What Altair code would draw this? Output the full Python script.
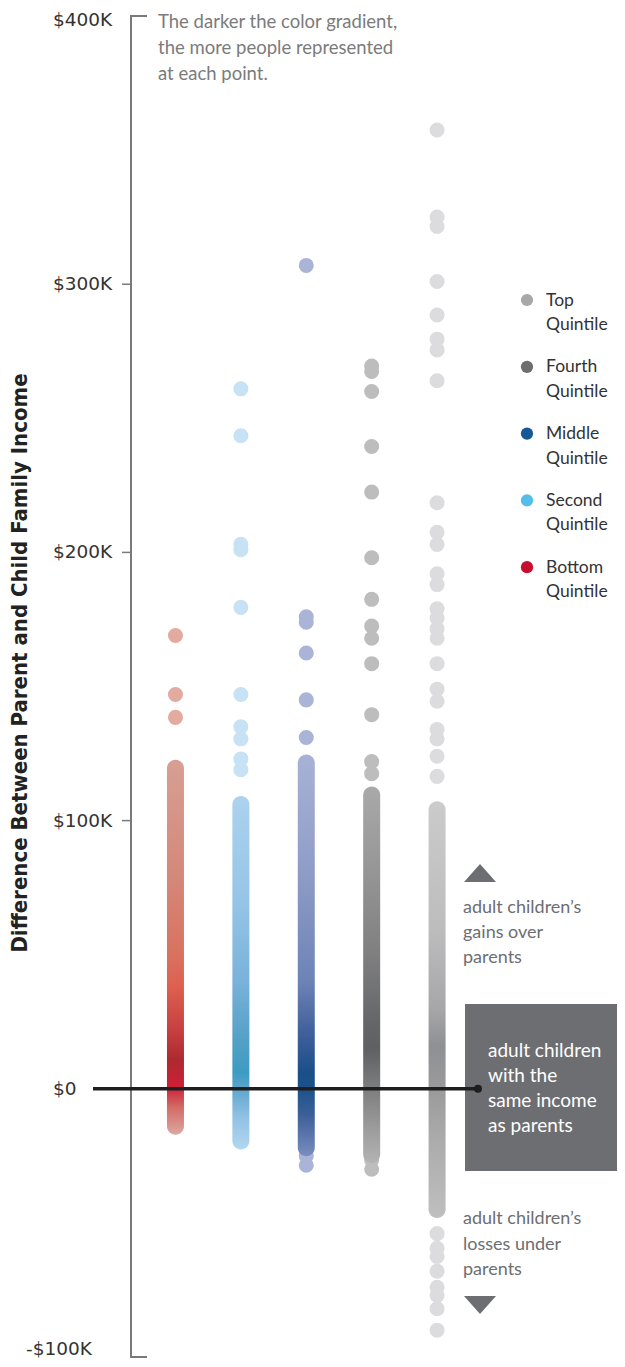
import altair as alt
import pandas as pd

# ---------------- data (values in $K) ----------------
quintiles = ["Bottom", "Second", "Middle", "Fourth", "Top"]

bottom_outliers = [169, 147, 138.5]
second_outliers = [261, 243.5, 203, 201, 179.5, 147, 135, 130.5, 123, 119]
middle_outliers = [307, 176, 174, 162.5, 145, 131, -25, -28.5]
fourth_outliers = [269.5, 267.5, 260, 239.5, 222.5, 198, 182.5, 172.5, 168, 158.5,
                   139.5, 122, 117.5, -26.5, -30]
top_outliers = [357.5, 325, 321.5, 301, 288.5, 279.5, 275.5, 264, 218.5, 207.5, 203,
                192, 188, 179, 175.5, 171.5, 168, 158.5, 149, 144.5, 134, 130.5, 124,
                116.5, -54, -59.5, -62.5, -68, -74, -77, -82, -90]
outliers = [bottom_outliers, second_outliers, middle_outliers, fourth_outliers, top_outliers]

# dense (continuous) run of points: top and bottom dot values
dense_top = [119.5, 106, 121.5, 109.5, 104]
dense_bottom = [-14, -19.5, -22, -24.5, -45]

# colour ramps along each dense run: (value, colour)
ramps = [
    [(119.5, "#d79f93"), (80, "#d4897a"), (50, "#d9725f"), (38, "#de604f"),
     (21, "#c53e40"), (11, "#ad2a30"), (1, "#cd1f36"), (-7, "#d36c66"), (-14, "#dca8a2")],
    [(106, "#acd2ee"), (70, "#95c5e7"), (40, "#79b2da"), (21, "#59a2c8"),
     (6, "#3d9bc3"), (0, "#5da6cc"), (-10, "#8fc0e3"), (-19.5, "#b3d7f0")],
    [(121.5, "#a8b2d6"), (80, "#8e9cc6"), (40, "#6d83b6"), (21, "#40609b"),
     (6, "#1b4f8a"), (0, "#1b5289"), (-10, "#3e6099"), (-22, "#7a8dbf")],
    [(109.5, "#a9a9a9"), (80, "#959595"), (50, "#7f7f80"), (25, "#656668"),
     (15, "#5e6062"), (0, "#7e7e7f"), (-15, "#9c9c9c"), (-24.5, "#b3b3b3")],
    [(104, "#cbcbcc"), (60, "#bdbdbe"), (30, "#a7a7a9"), (16, "#8f9094"),
     (0, "#9a9a9b"), (-20, "#acacad"), (-45, "#bfbfc0")],
]
outlier_colors = ["#e3ab9f", "#c6e2f4", "#aab4d7", "#bdbdbd", "#dcdcde"]

legend_labels = ["Top\nQuintile", "Fourth\nQuintile", "Middle\nQuintile",
                 "Second\nQuintile", "Bottom\nQuintile"]
legend_colors = ["#a7a8aa", "#6d6e71", "#155a96", "#55bde9", "#c8102e"]

mid_tick_values = [0, 100, 200, 300]
mid_tick_labels = ["$0", "$100K", "$200K", "$300K"]
top_tick_values = [400]
top_tick_labels = ["$400K"]
neg_tick_values = [-100]
neg_tick_labels = ["-$100K"]
inner_ticks = [100, 200, 300]

# ---------------- layout ----------------
PLOT_W, PLOT_H = 486, 1341
PX_PER_K = PLOT_H / 500.0
FONT = "Lato"
LABEL_FONT = "DejaVu Sans"

yscale = alt.Scale(domain=[-100, 400], nice=False, zero=False, padding=0)
xscale = alt.Scale(domain=[-0.68, 6.751], nice=False, zero=False, padding=0)

layers = []

# individual outlying points
rows = []
for i, q in enumerate(quintiles):
    for v in outliers[i]:
        rows.append({"idx": i, "value": v, "quintile": q, "color": outlier_colors[i]})
dots_df = pd.DataFrame(rows)
dots = alt.Chart(dots_df).mark_circle(size=227, opacity=1).encode(
    x=alt.X("idx:Q", scale=xscale, axis=None),
    y=alt.Y("value:Q", scale=yscale, axis=None),
    color=alt.Color("color:N", scale=None),
)
layers.append(dots)

# dense runs as gradient bars with rounded ends
for i, q in enumerate(quintiles):
    top, bot = dense_top[i], dense_bottom[i]
    total = (top - bot) * PX_PER_K + 17
    stops = []
    for v, c in ramps[i]:
        off = ((top - v) * PX_PER_K + 8.5) / total
        off = min(max(off, 0), 1)
        stops.append(alt.GradientStop(offset=off, color=c))
    stops[0] = alt.GradientStop(offset=0, color=ramps[i][0][1])
    stops[-1] = alt.GradientStop(offset=1, color=ramps[i][-1][1])
    grad = alt.LinearGradient(gradient="linear", stops=stops, x1=0, x2=0, y1=0, y2=1)
    df = pd.DataFrame({"idx": [i], "top": [top], "bottom": [bot], "quintile": [q]})
    bar = alt.Chart(df).mark_bar(
        orient="vertical", size=17, cornerRadius=8.5, yOffset=-8.5, y2Offset=8.5,
        fill=grad, strokeWidth=0,
    ).encode(
        x=alt.X("idx:Q", scale=xscale, axis=None),
        y=alt.Y("top:Q", scale=yscale, axis=None),
        y2="bottom:Q",
    )
    layers.append(bar)

base = alt.Chart(pd.DataFrame({"a": [0]}))

# ---- hand-drawn y axis ----
layers.append(base.mark_rule(color="#7a7a7a", strokeWidth=2).encode(
    x=alt.value(0),
    y=alt.YDatum(400, scale=yscale, axis=None),
    y2=alt.Y2Datum(-100)))
tick_df = pd.DataFrame({"v": inner_ticks})
layers.append(alt.Chart(tick_df).mark_rule(color="#7a7a7a", strokeWidth=1.5).encode(
    x=alt.value(-9), x2=alt.value(0),
    y=alt.Y("v:Q", scale=yscale, axis=None)))
for v in [400, -100]:
    layers.append(base.mark_rule(color="#7a7a7a", strokeWidth=2).encode(
        x=alt.value(-1), x2=alt.value(16),
        y=alt.YDatum(v, scale=yscale, axis=None)))


def tick_label_layer(values, labels, x_px, dy, size):
    df = pd.DataFrame({"v": values, "label": labels})
    return alt.Chart(df).mark_text(
        align="left", baseline="middle", font=LABEL_FONT, fontSize=size,
        color="#333333", dy=dy,
    ).encode(
        x=alt.value(x_px),
        y=alt.Y("v:Q", scale=yscale, axis=None),
        text="label:N")


layers.append(tick_label_layer(mid_tick_values, mid_tick_labels, -78, 0, 18.5))
layers.append(tick_label_layer(top_tick_values, top_tick_labels, -78, 4, 18.5))
layers.append(tick_label_layer(neg_tick_values, neg_tick_labels, -105, -8, 18.5))

# annotation box on the right
layers.append(base.mark_rect(color="#6d6e71").encode(
    x=alt.value(334), x2=alt.value(500), y=alt.value(988), y2=alt.value(1155)))

# zero line with dot
layers.append(base.mark_rule(color="#1e1e1e", strokeWidth=3.5).encode(
    x=alt.value(-38), x2=alt.value(347),
    y=alt.YDatum(0, scale=yscale, axis=None)))
layers.append(base.mark_circle(color="#1e1e1e", size=64, opacity=1).encode(
    x=alt.value(347), y=alt.YDatum(0, scale=yscale, axis=None)))

# y axis title
layers.append(base.mark_text(
    text="Difference Between Parent and Child Family Income", angle=270,
    font="Liberation Sans Narrow, DejaVu Sans Condensed, sans-serif",
    fontWeight="bold", fontSize=22, color="#222222", align="center", baseline="middle",
).encode(x=alt.value(-111), y=alt.value(647)))

# top note
layers.append(base.mark_text(
    text="The darker the color gradient,\nthe more people represented\nat each point.",
    lineBreak="\n", lineHeight=26, font=FONT, fontSize=18.5, color="#7b7b7b",
    align="left", baseline="top",
).encode(x=alt.value(27), y=alt.value(-3)))

# legend (fixed positions, 67px apart)
for k, (lab, col) in enumerate(zip(legend_labels, legend_colors)):
    cy = 284 + k * 66.8
    layers.append(base.mark_circle(size=150, opacity=1, color=col).encode(
        x=alt.value(396), y=alt.value(cy)))
    layers.append(base.mark_text(
        text=lab, lineBreak="\n", lineHeight=24.5, font=FONT, fontSize=17.5,
        color="#333333", align="left", baseline="top",
    ).encode(x=alt.value(415), y=alt.value(cy - 8.5)))

# gains / losses annotations
tri_up = "M-1,0.56L1,0.56L0,-0.56Z"
tri_down = "M-1,-0.56L1,-0.56L0,0.56Z"
layers.append(base.mark_point(shape=tri_up, filled=True, size=1024, color="#6d6e71", opacity=1).encode(
    x=alt.value(349), y=alt.value(857)))
layers.append(base.mark_point(shape=tri_down, filled=True, size=1024, color="#6d6e71", opacity=1).encode(
    x=alt.value(349), y=alt.value(1289)))
layers.append(base.mark_text(
    text="adult children\u2019s\ngains over\nparents", lineBreak="\n", lineHeight=25,
    font=FONT, fontSize=18, color="#6d6e71", align="left", baseline="top",
).encode(x=alt.value(332), y=alt.value(883)))
layers.append(base.mark_text(
    text="adult children\u2019s\nlosses under\nparents", lineBreak="\n", lineHeight=25.5,
    font=FONT, fontSize=18, color="#6d6e71", align="left", baseline="top",
).encode(x=alt.value(332), y=alt.value(1194)))
layers.append(base.mark_text(
    text="adult children\nwith the\nsame income\nas parents", lineBreak="\n", lineHeight=25,
    font=FONT, fontSize=19, color="#ffffff", align="left", baseline="top",
).encode(x=alt.value(357), y=alt.value(1026)))

chart = alt.layer(*layers).properties(
    width=PLOT_W, height=PLOT_H, background="white",
    autosize=alt.AutoSizeParams(type="none"),
    padding={"left": 123, "top": 8, "right": 0, "bottom": 2},
).configure_view(stroke=None)

chart.save("out.html", embed_options={"renderer": "svg", "actions": False})
